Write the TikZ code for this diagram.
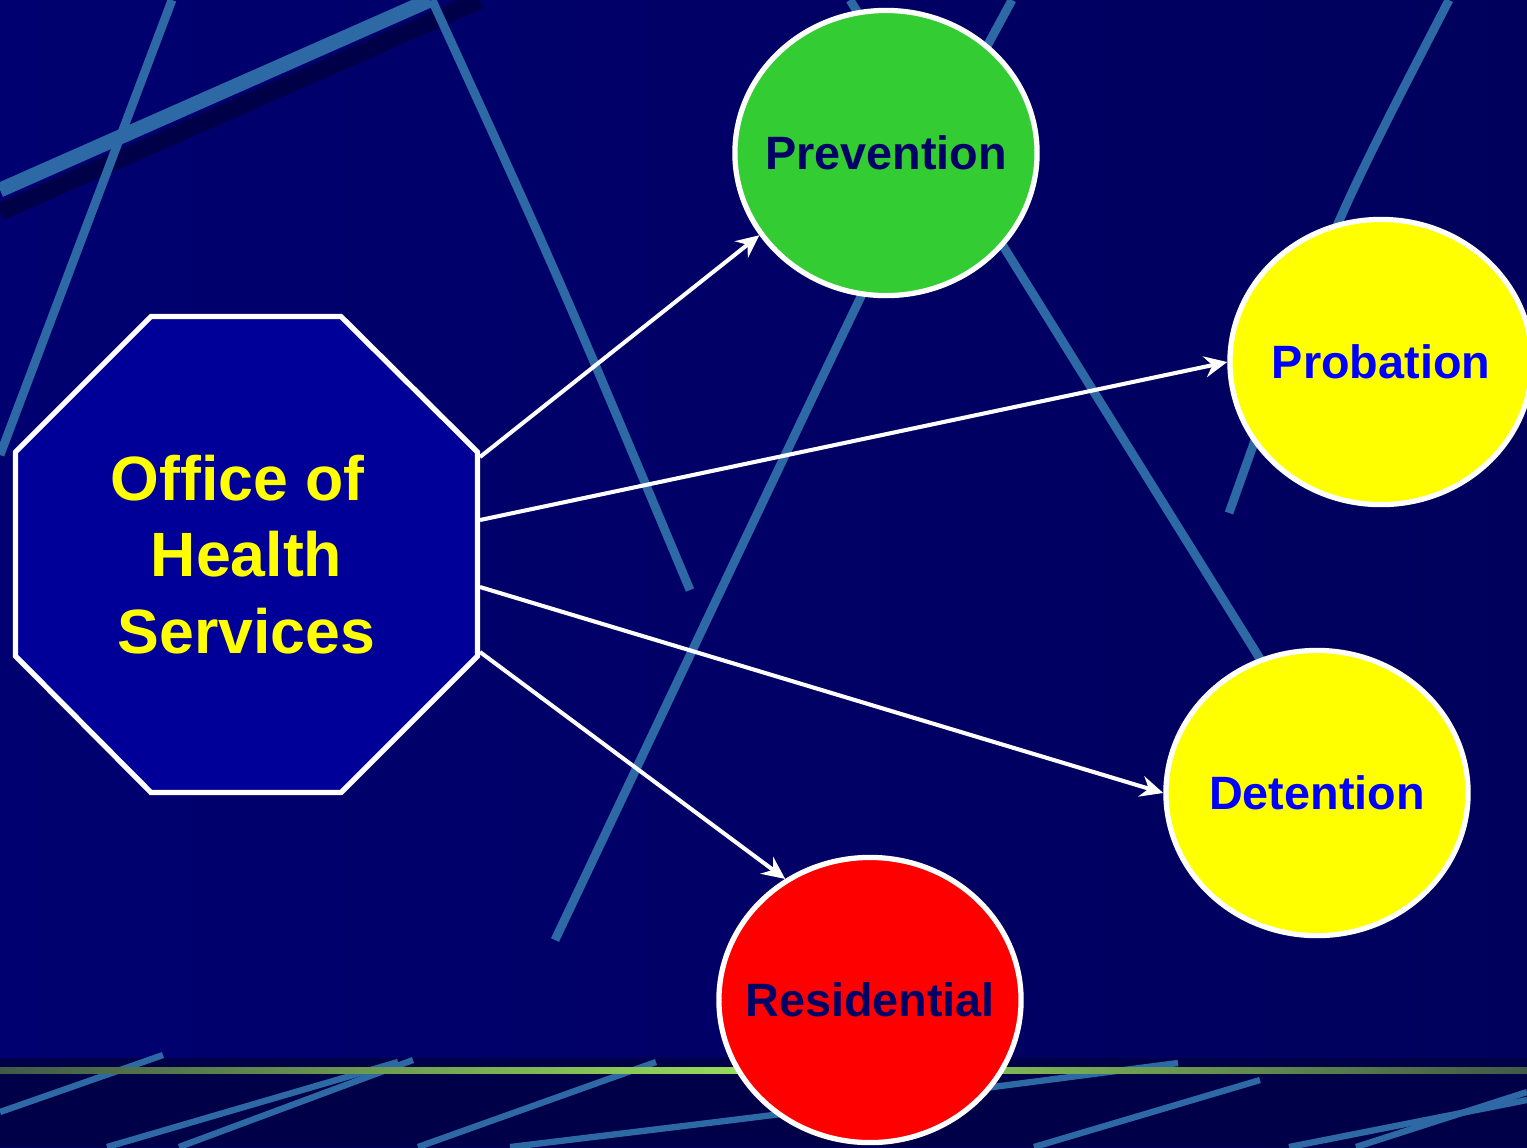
\documentclass[tikz,border=0pt]{standalone}
\usepackage{fontspec}
\setmainfont{Liberation Sans}
\usetikzlibrary{arrows.meta}
\usetikzlibrary{shapes.geometric}

\definecolor{slidebg}{RGB}{0,0,112}
\definecolor{slideright}{RGB}{0,0,92}
\definecolor{slidelow}{RGB}{0,0,72}
\definecolor{streak}{RGB}{45,105,165}
\definecolor{octblue}{RGB}{0,0,153}
\definecolor{navytext}{RGB}{0,0,102}
\definecolor{bubblegreen}{RGB}{51,204,51}
\definecolor{bubbleyellow}{RGB}{255,255,0}
\definecolor{bubblered}{RGB}{255,0,0}
\definecolor{bubbleblue}{RGB}{0,0,255}
\definecolor{linedark}{RGB}{64,90,72}
\definecolor{linebright}{RGB}{155,224,90}

\begin{document}
\begin{tikzpicture}[x=0.01cm, y=-0.01cm,
    bubble/.style={ellipse, draw=white, line width=1.5pt, minimum width=3.02cm,
        minimum height=2.85cm, inner sep=0pt, font=\fontsize{13.3}{16}\selectfont\bfseries},
    feed/.style={white, line width=1.15pt, -{Stealth[length=6.5pt, width=6pt, inset=2.2pt]}},
    streakline/.style={streak, line width=2.5pt},
    lowstreak/.style={streak, line width=1.8pt}]
    \useasboundingbox (0,0) rectangle (1527,1147);
    % background and streaks
    \shade[left color=slidebg, right color=slideright] (0,0) rectangle (1527,1147);
    \draw[slidelow, line width=5pt] (0,212) -- (480,0);
    \draw[streak, line width=4.2pt] (0,190) -- (430,0);
    \draw[streakline] (172,0) -- (0,455);
    \draw[streakline] (432,0) .. controls (560,280) .. (690,590);
    \draw[streakline] (1012,0) .. controls (920,170) .. (555,940);
    \draw[streakline] (850,0) -- (1262,662);
    \draw[streakline] (1449,0) .. controls (1330,230) .. (1229,513);
    % bottom band
    \fill[slidelow] (0,1058) rectangle (1527,1147);
    \draw[lowstreak] (0,1112) -- (163,1055);
    \draw[lowstreak] (107,1147) -- (398,1062);
    \draw[lowstreak] (179,1147) -- (413,1060);
    \draw[lowstreak] (418,1147) -- (656,1062);
    \draw[lowstreak] (510,1147) .. controls (800,1112) .. (1178,1063);
    \draw[lowstreak] (1034,1147) -- (1260,1080);
    \draw[lowstreak] (1289,1147) -- (1527,1100);
    \draw[lowstreak] (1356,1147) -- (1527,1092);
    \shade[left color=linedark, right color=linedark, middle color=linebright]
        (0,1067) rectangle (1527,1073);
    % octagon
    \draw[white, line width=1.5pt, fill=octblue] (151,316.5) -- (341,316.5) -- (477.5,452)
        -- (477.5,656) -- (341,792.5) -- (151,792.5) -- (15.5,656) -- (15.5,452) -- cycle;
    \node[align=center, text=bubbleyellow, font=\fontsize{17.8}{21.8}\selectfont\bfseries]
        (ohs) at (246.5,554.5) {Office of\hspace*{0.28em}\\Health\hspace*{0.28em}\\Services};
    \coordinate (ohs prev) at (480,457);
    \coordinate (ohs prob) at (480,520);
    \coordinate (ohs det) at (480,587);
    \coordinate (ohs res) at (480,652);
    % circles
    \node[bubble, fill=bubblegreen, text=navytext] (prev) at (886,153) {\makebox[0pt]{Prevention}};
    \node[bubble, fill=bubbleyellow, text=bubbleblue] (prob) at (1381,362) {\makebox[0pt]{Probation}};
    \node[bubble, fill=bubbleyellow, text=bubbleblue] (det) at (1317,793) {\makebox[0pt]{Detention}};
    \node[bubble, fill=bubblered, text=navytext] (res) at (870,1000) {\makebox[0pt]{Residential}};
    % arrows
    \draw[feed] (ohs prev) -- (prev.213.7);
    \draw[feed] (ohs prob) -- (prob.west);
    \draw[feed] (ohs det) -- (det.west);
    \draw[feed] (ohs res) -- (res.125);
\end{tikzpicture}
\end{document}
